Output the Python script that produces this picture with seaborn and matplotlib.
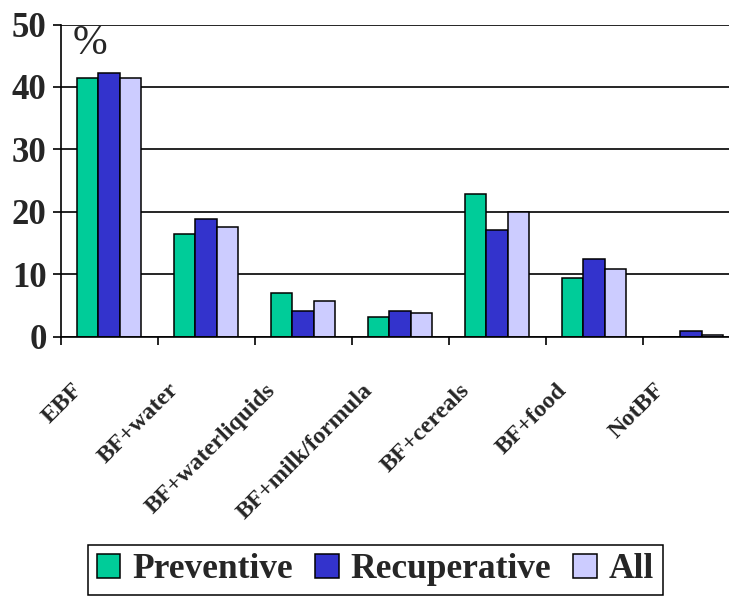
import matplotlib
matplotlib.use("Agg")
import matplotlib.pyplot as plt
import matplotlib.transforms as mtransforms
import numpy as np
import pandas as pd
import seaborn as sns

# Feeding practice categories and the share (%) of children in each group
categories = ["EBF", "BF+water", "BF+waterliquids", "BF+milk/formula",
              "BF+cereals", "BF+food", "NotBF"]
preventive = [41.5, 16.4, 7.0, 3.2, 22.8, 9.3, 0.0]
recuperative = [42.2, 18.9, 4.1, 4.1, 17.0, 12.5, 0.9]
all_children = [41.5, 17.6, 5.7, 3.8, 19.9, 10.9, 0.3]
groups = ["Preventive", "Recuperative", "All"]
y_ticks = [0, 10, 20, 30, 40, 50]

colors = {"Preventive": "#00CC99", "Recuperative": "#3333CC", "All": "#CCCCFF"}

df = pd.DataFrame({
    "category": categories * 3,
    "value": preventive + recuperative + all_children,
    "group": [g for g in groups for _ in categories],
})

sns.set_theme(style="white")
plt.rcParams["font.family"] = ["Liberation Serif", "DejaVu Serif"]

fig = plt.figure(figsize=(7.29, 5.97), dpi=100)
ax = fig.add_axes([0.083, 0.4363, 0.917, 0.5226])

sns.barplot(data=df, x="category", y="value", hue="group", order=categories,
            hue_order=groups, palette=colors, width=0.66, saturation=1,
            edgecolor="black", linewidth=1.1, ax=ax, legend=True)

ax.set_xlim(-0.5, 6.39)
ax.set_ylim(0, 50)
ax.set_yticks(y_ticks)
ax.set_yticklabels([str(v) for v in y_ticks], fontsize=25, fontweight="bold")
ax.set_xlabel("")
ax.set_ylabel("")

# horizontal gridlines behind the bars
ax.set_axisbelow(True)
ax.yaxis.grid(True, color="black", linewidth=1.2)
ax.xaxis.grid(False)

for side in ["top", "right"]:
    ax.spines[side].set_visible(False)
for side in ["left", "bottom"]:
    ax.spines[side].set_color("black")
    ax.spines[side].set_linewidth(1.2)

ax.tick_params(axis="y", which="major", direction="out", length=6, width=1.2,
               color="black", pad=4, left=True)

# category labels at the group centres, tick marks on the group boundaries
ax.set_xticks(range(len(categories)))
ax.set_xticks(np.arange(-0.5, len(categories) - 1, 1.0), minor=True)
ax.tick_params(axis="x", which="major", length=0, pad=31)
ax.tick_params(axis="x", which="minor", direction="out", length=6, width=1.2,
               color="black", bottom=True)
ax.set_xticklabels(categories, rotation=45, ha="right", fontsize=17.5,
                   fontweight="bold")
shift = mtransforms.ScaledTranslation(-0.23, 0, fig.dpi_scale_trans)
for lbl in ax.get_xticklabels():
    lbl.set_transform(lbl.get_transform() + shift)

ax.text(-0.2, 47.0, "%", fontsize=30, ha="center", va="center")

# legend in a framed row below the chart
handles, labels = ax.get_legend_handles_labels()
ax.get_legend().remove()
leg = fig.legend(handles, labels, loc="lower center",
                 bbox_to_anchor=(0.515, 0.0), ncol=3, frameon=True,
                 fancybox=False, edgecolor="black", framealpha=1,
                 prop={"size": 25.5, "weight": "bold"},
                 handlelength=0.67, handleheight=0.7, handletextpad=0.34,
                 columnspacing=0.62, borderpad=0.25, borderaxespad=0.05)
leg.get_frame().set_linewidth(1.1)

fig.savefig("out.png", dpi=100)
